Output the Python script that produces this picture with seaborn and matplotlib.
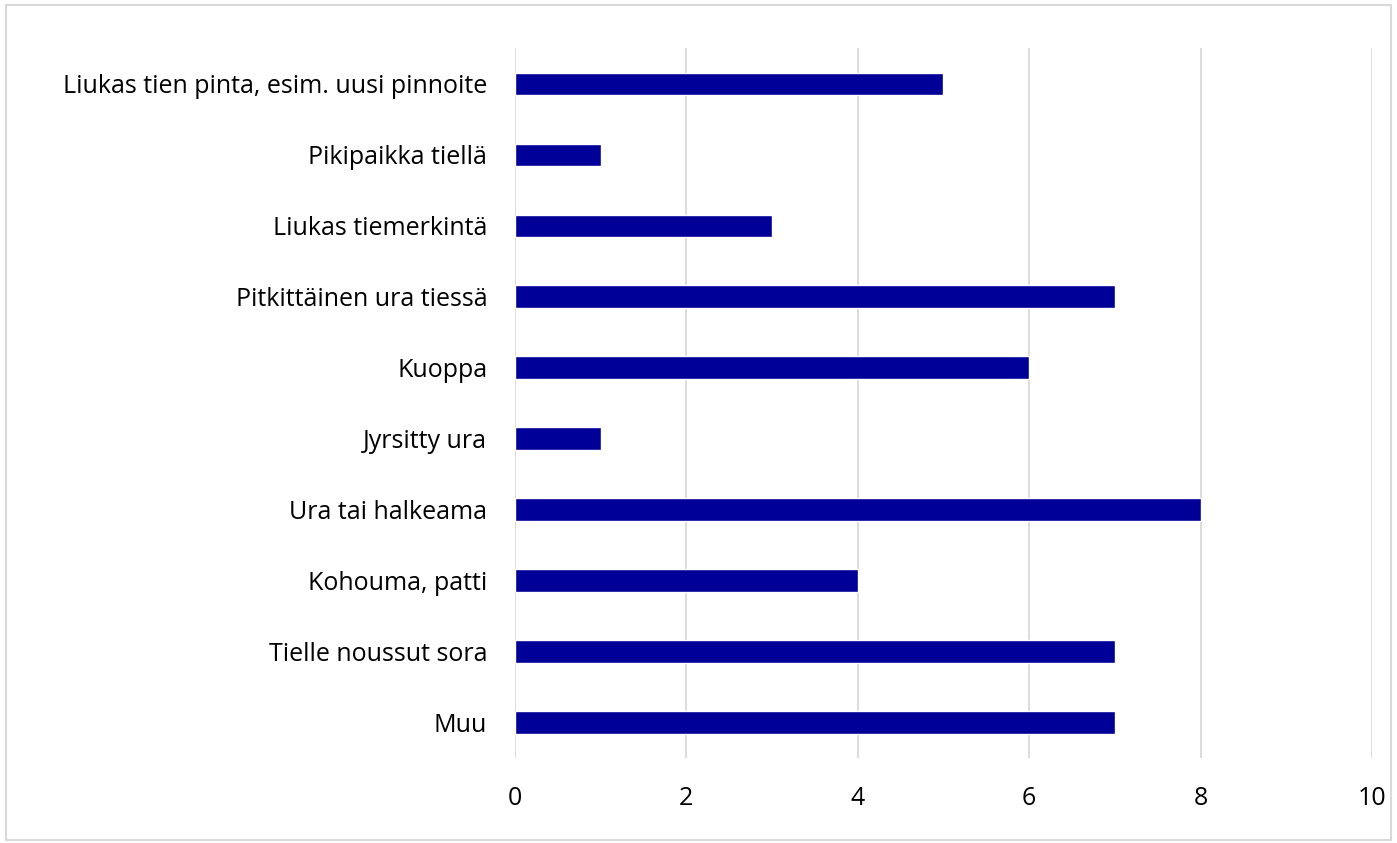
import matplotlib.pyplot as plt
import seaborn as sns
import pandas as pd
from matplotlib.patches import Rectangle

# categories top to bottom
categories = [
    "Liukas tien pinta, esim. uusi pinnoite",
    "Pikipaikka tiellä",
    "Liukas tiemerkintä",
    "Pitkittäinen ura tiessä",
    "Kuoppa",
    "Jyrsitty ura",
    "Ura tai halkeama",
    "Kohouma, patti",
    "Tielle noussut sora",
    "Muu",
]
counts = [5, 1, 3, 7, 6, 1, 8, 4, 7, 7]
x_ticks = [0, 2, 4, 6, 8, 10]

df = pd.DataFrame({"kategoria": categories, "lkm": counts})

sns.set_theme(style="white")
plt.rcParams["font.family"] = ["Open Sans", "DejaVu Sans"]

fig = plt.figure(figsize=(13.97, 8.43), dpi=100)
ax = fig.add_axes([0.3686, 0.1008, 0.6135, 0.8417])

sns.barplot(data=df, x="lkm", y="kategoria", orient="h", color="#000099",
            saturation=1, width=0.32, ax=ax)

ax.set_xlim(0, 10)
ax.set_xticks(x_ticks)
ax.set_xticklabels([str(t) for t in x_ticks])
ax.xaxis.grid(True, color="#d9d9d9", linewidth=1.3)
ax.set_axisbelow(True)
for s in ax.spines.values():
    s.set_visible(False)
ax.tick_params(axis="both", length=0, labelsize=18, colors="black")
ax.tick_params(axis="y", pad=20)
ax.tick_params(axis="x", pad=20)
ax.set_xlabel("")
ax.set_ylabel("")

# light frame around the whole chart
fig.patches.append(Rectangle((0.004, 0.003), 0.992, 0.991, transform=fig.transFigure,
                             fill=False, edgecolor="#d9d9d9", linewidth=1.5))

fig.savefig("out.png", dpi=100)
